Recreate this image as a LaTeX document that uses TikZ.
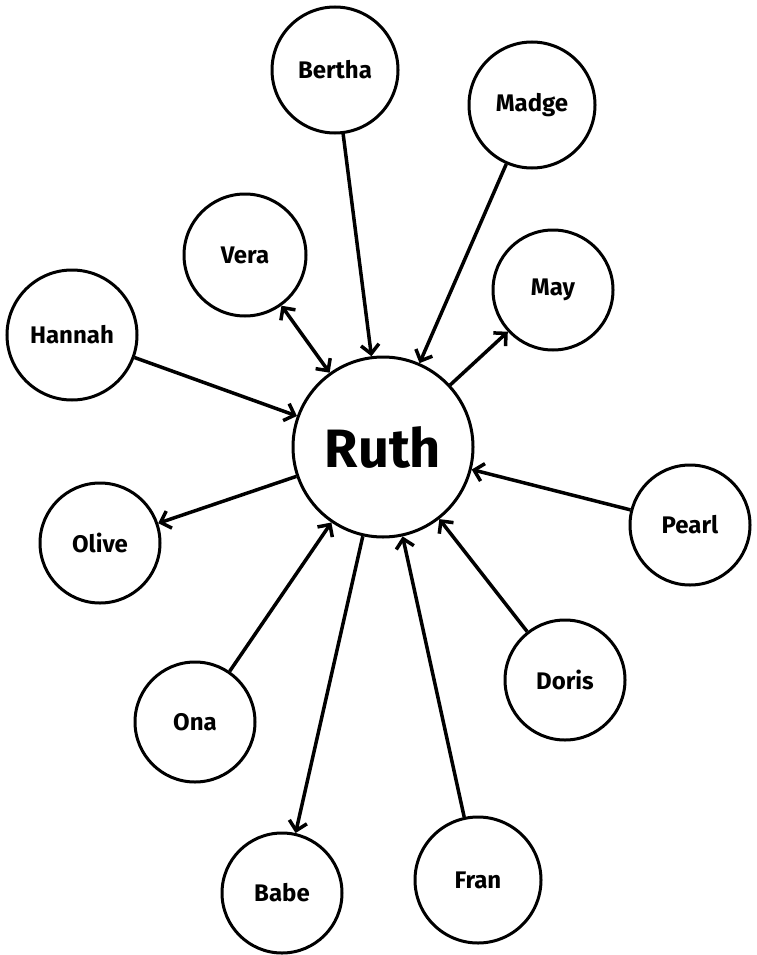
\documentclass[tikz,border=0pt]{standalone}
\usepackage{fontspec}
\setmainfont{Fira Sans}
\usetikzlibrary{arrows.meta}
\begin{document}
\begin{tikzpicture}[x=1pt,y=-1pt,
  person/.style={circle,draw,line width=3pt,minimum size=#1,inner sep=0pt,font=\bfseries\fontsize{24}{28}\selectfont},
  person/.default=122pt,
  tolink/.style={line width=3.5pt,-{Straight Barb[length=9pt,width=18pt]}},
  bilink/.style={line width=3.5pt,{Straight Barb[length=9pt,width=18pt]}-{Straight Barb[length=9pt,width=18pt]}}]
\useasboundingbox (0,0) rectangle (757,955);
\node[person=180pt,font=\bfseries\fontsize{54}{60}\selectfont] (ruth) at (383,447) {Ruth};
\node[person=126pt] (bertha) at (335,70) {Bertha};
\node[person=126pt] (madge) at (532,105) {Madge};
\node[person] (vera) at (245,255) {Vera};
\node[person=120pt] (may) at (553,290) {May};
\node[person=130pt] (hannah) at (72,335) {Hannah};
\node[person=120pt] (olive) at (100,543) {Olive};
\node[person=120pt] (pearl) at (690,525) {Pearl};
\node[person=120pt] (doris) at (565,680) {Doris};
\node[person=120pt] (ona) at (195,722) {Ona};
\node[person=120pt] (babe) at (282,893) {Babe};
\node[person=126pt] (fran) at (478,880) {Fran};
\draw[tolink] (bertha) -- (ruth);
\draw[tolink] (madge) -- (ruth);
\draw[bilink] (vera) -- (ruth);
\draw[tolink] (ruth) -- (may);
\draw[tolink] (hannah) -- (ruth);
\draw[tolink] (ruth) -- (olive);
\draw[tolink] (pearl) -- (ruth);
\draw[tolink] (doris) -- (ruth);
\draw[tolink] (ona) -- (ruth);
\draw[tolink] (ruth) -- (babe);
\draw[tolink] (fran) -- (ruth);
\end{tikzpicture}
\end{document}
